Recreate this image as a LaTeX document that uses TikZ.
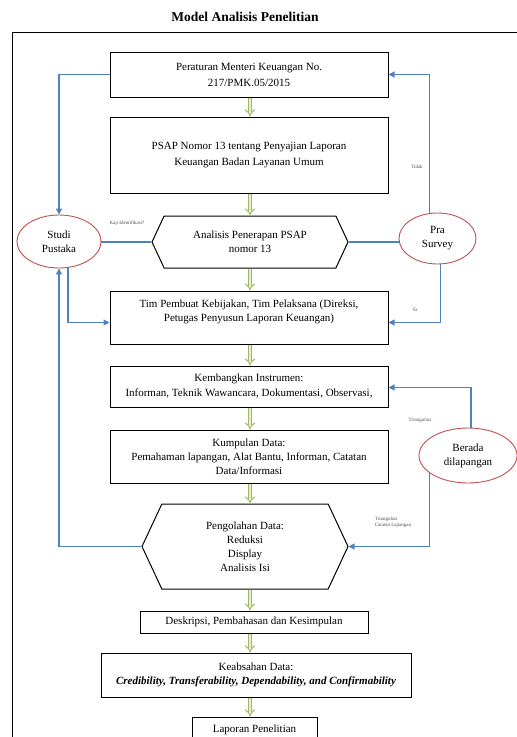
\documentclass[tikz,border=0pt]{standalone}
\usepackage{fontspec}
\setmainfont{Liberation Serif}
\usepackage{xcolor}
\definecolor{lBlue}{HTML}{4F81BD}
\definecolor{lRed}{HTML}{C0504D}
\definecolor{lGreen}{HTML}{9BBB59}
\usetikzlibrary{shapes.geometric}
\usetikzlibrary{shapes.symbols}
\usetikzlibrary{arrows.meta}

\begin{document}
\begin{tikzpicture}[x=1pt, y=-1pt,
    box/.style={draw, line width=1pt, align=center, inner sep=2pt, font=\fontsize{11}{14}\selectfont},
    hexbox/.style={box, shape=signal, signal to=east and west, signal pointer angle=130},
    oval/.style={draw=lRed, line width=0.9pt, ellipse, align=center, inner sep=0pt, font=\fontsize{11}{14}\selectfont},
    blueline/.style={draw=lBlue, line width=1.2pt},
    bluearrow/.style={blueline, -{Triangle[length=6pt, width=6pt]}},
    greenarrow/.style={draw=lGreen, line width=1pt, double=lGreen!25, double distance=2.6pt, -Implies},
    note/.style={font=\fontsize{5}{6}\selectfont, text=black!70, align=left, inner sep=0pt}]
        \useasboundingbox (0,0) rectangle (517,737);
        \clip (0,0) rectangle (517,737);
        \node [font=\bfseries\fontsize{13.5}{16}\selectfont] (judul) at (245,17) {Model Analisis Penelitian};
        \draw [line width=1pt] (517,32) -- (12,32) -- (12,737);
        \coordinate (axis) at (250,0);

        \node [box, minimum width=278pt, minimum height=45pt] (peraturan) at (249,74.5) {Peraturan Menteri Keuangan No.\\[2pt]217/PMK.05/2015};
        \node [box, minimum width=278pt, minimum height=76pt] (psap) at (249,155) {PSAP Nomor 13 tentang Penyajian Laporan\\[2pt]Keuangan Badan Layanan Umum};
        \node [hexbox, minimum width=196pt, minimum height=52pt] (analisis) at (250,242) {Analisis Penerapan PSAP\\nomor 13};
        \node [box, minimum width=278pt, minimum height=53pt] (tim) at (249,317.5) {Tim Pembuat Kebijakan, Tim Pelaksana (Direksi,\\Petugas Penyusun Laporan Keuangan)\\~};
        \node [box, minimum width=278pt, minimum height=41pt] (instrumen) at (249,386.5) {Kembangkan Instrumen:\\[1pt]Informan, Teknik Wawancara, Dokumentasi, Observasi,};
        \node [box, minimum width=278pt, minimum height=53pt] (kumpulan) at (249,456.5) {Kumpulan Data:\\Pemahaman lapangan, Alat Bantu, Informan, Catatan\\Data/Informasi};
        \node [hexbox, minimum width=206pt, minimum height=85pt] (olah) at (245,546.5) {Pengolahan Data:\\Reduksi\\Display\\Analisis Isi};
        \node [box, minimum width=228pt, minimum height=22pt] (deskripsi) at (254,622) {Deskripsi, Pembahasan dan Kesimpulan};
        \node [box, minimum width=310pt, minimum height=44pt] (keabsahan) at (256,675) {Keabsahan Data:\\\textbf{\textit{Credibility, Transferability, Dependability, and Confirmability}}};
        \node [box, minimum width=125pt, minimum height=26pt] (laporan) at (254.5,730) {Laporan Penelitian};

        \node [oval, minimum width=84pt, minimum height=53pt] (studi) at (59,241.5) {Studi\\Pustaka};
        \node [oval, minimum width=77pt, minimum height=51pt] (pra) at (437.5,238.5) {Pra\\Survey};
        \node [oval, minimum width=98pt, minimum height=55pt] (berada) at (468,455.5) {Berada\\dilapangan};

        \foreach \a/\b in {peraturan/psap, psap/analisis, analisis/tim, tim/instrumen, instrumen/kumpulan, kumpulan/olah, olah/deskripsi, deskripsi/keabsahan, keabsahan/laporan}
          \draw [greenarrow] (\a.south -| axis) -- (\b.north -| axis);

        \draw [bluearrow] (peraturan.west) -| (studi.north);
        \draw [bluearrow] ([xshift=-8pt]pra.north) |- (peraturan.east);
        \draw [blueline] (analisis.west) -- (analisis.west -| studi.east);
        \draw [blueline] (analisis.east) -- (analisis.east -| pra.west);
        \draw [bluearrow] ([xshift=9pt]studi.south) |- ([yshift=-5pt]tim.west);
        \draw [bluearrow] ([xshift=3pt]pra.south) |- ([yshift=-5pt]tim.east);
        \draw [bluearrow] ([xshift=3pt]berada.north) |- ([yshift=-1pt]instrumen.east);
        \draw [bluearrow] (berada.205) |- (olah.east);
        \draw [bluearrow] (olah.west) -| (studi.south);

        \node [note] (kaji) at (127,223) {Kaji Identifikasi?};
        \node [note] (tidak) at (417,167) {Tidak};
        \node [note] (ya) at (415,310) {Ya};
        \node [note] (tri) at (420,420) {Triangulasi};
        \node [note] (tricatat) at (393,522) {Triangulasi\\Catatan Lapangan};
      \end{tikzpicture}
\end{document}
